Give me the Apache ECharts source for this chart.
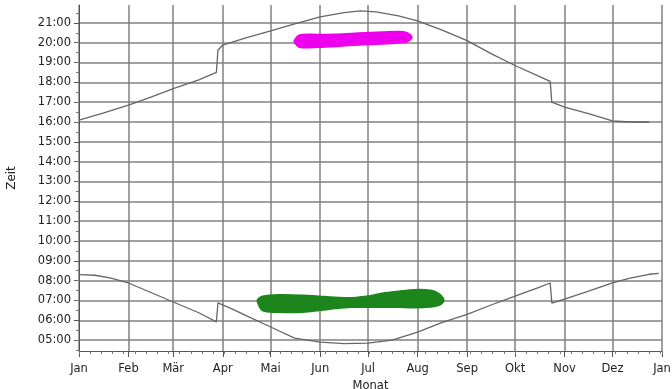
<!DOCTYPE html>
<html>
<head>
<meta charset="utf-8">
<script src="https://cdn.jsdelivr.net/npm/echarts@6/dist/echarts.min.js"></script>
<style>
  html, body { margin: 0; padding: 0; background: #fff; }
  #chart { width: 672px; height: 389px; }
</style>
</head>
<body>
<div id="chart"></div>
<script>
// month starts (day of year) and their labels
const monthDays = [0, 31, 59, 90, 120, 151, 181, 212, 243, 273, 304, 334, 365]
const monthNames = ['Jan', 'Feb', 'Mär', 'Apr', 'Mai', 'Jun', 'Jul', 'Aug', 'Sep', 'Okt', 'Nov', 'Dez', 'Jan']
const hourTicks = [5, 6, 7, 8, 9, 10, 11, 12, 13, 14, 15, 16, 17, 18, 19, 20, 21]

// sunset [day, hour]
const sunset = [
  [0, 16.1], [15, 16.45], [31, 16.85], [45, 17.25], [59, 17.68], [75, 18.12], [86, 18.5],
  [87, 19.62], [90, 19.88], [105, 20.25], [120, 20.6], [135, 20.95], [151, 21.3],
  [166, 21.52], [176, 21.6], [186, 21.55], [200, 21.35], [212, 21.1], [227, 20.65],
  [243, 20.1], [258, 19.45], [273, 18.85], [288, 18.3], [295, 18.05],
  [296, 17.0], [304, 16.75], [319, 16.42], [334, 16.05], [345, 16.0], [357, 16.0]
]

// sunrise [day, hour]
const sunrise = [
  [0, 8.3], [10, 8.27], [20, 8.12], [31, 7.88], [45, 7.4], [59, 6.92], [75, 6.38], [86, 5.92],
  [87, 6.88], [95, 6.6], [105, 6.22], [120, 5.66], [135, 5.1], [151, 4.9], [166, 4.82],
  [181, 4.85], [196, 5.0], [212, 5.4], [227, 5.88], [243, 6.3], [258, 6.77], [273, 7.22],
  [288, 7.66], [295, 7.88], [296, 6.87], [304, 7.07], [319, 7.47], [334, 7.88],
  [345, 8.13], [357, 8.32], [363, 8.36]
]

// magenta band: day, lower, upper
const pinkDays = [135, 138, 150, 165, 175, 190, 200, 205, 208]
const pinkLow = [20.02, 19.78, 19.78, 19.85, 19.9, 19.95, 20.0, 20.05, 20.2]
const pinkHigh = [20.12, 20.38, 20.4, 20.42, 20.47, 20.52, 20.55, 20.5, 20.33]

// green band: day, lower, upper
const greenDays = [112, 115, 125, 140, 150, 160, 170, 180, 190, 200, 210, 220, 225, 228]
const greenLow = [6.9, 6.5, 6.42, 6.42, 6.5, 6.6, 6.67, 6.67, 6.67, 6.67, 6.65, 6.68, 6.75, 6.92]
const greenHigh = [7.05, 7.2, 7.27, 7.25, 7.2, 7.15, 7.12, 7.2, 7.35, 7.45, 7.53, 7.5, 7.35, 7.1]

const gridColor = '#808080'
const textColor = '#222'
const labelFont = 'DejaVu Sans, sans-serif'

// filled band between low and high, drawn once as one smooth polygon
function band (name, days, low, high, color) {
  return {
    name: name,
    type: 'custom',
    data: days.map((d, i) => [d, low[i], high[i]]),
    z: 3,
    renderItem (params, api) {
      if (params.dataIndex !== 0) return null
      const top = days.map((d, i) => api.coord([d, high[i]]))
      const bottom = days.map((d, i) => api.coord([d, low[i]])).reverse()
      return {
        type: 'polygon',
        shape: { points: top.concat(bottom), smooth: 0.35 },
        style: { fill: color, stroke: color, lineWidth: 2 }
      }
    }
  }
}

const chart = echarts.init(document.getElementById('chart'))
chart.setOption({
  animation: false,
  textStyle: { fontFamily: labelFont },
  grid: { left: 79, right: 10, top: 5, bottom: 38, outerBoundsMode: 'none', containLabel: false },
  xAxis: [
    {
      type: 'value',
      min: 0,
      max: 365,
      name: 'Monat',
      nameLocation: 'middle',
      nameGap: 29,
      nameTextStyle: { color: textColor, fontSize: 11.5, fontFamily: labelFont },
      axisLine: { show: true, lineStyle: { color: '#555', width: 1 } },
      axisTick: { show: true, length: 6, customValues: monthDays, lineStyle: { color: '#555' } },
      axisLabel: {
        customValues: monthDays,
        color: textColor,
        fontSize: 11.5,
        fontFamily: labelFont,
        margin: 12,
        formatter: (v) => monthNames[monthDays.indexOf(v)]
      },
      splitLine: { show: true, lineStyle: { color: gridColor, width: 1.5 } }
    },
    {
      // weekly small ticks
      type: 'value',
      min: 0,
      max: 365,
      interval: 7,
      position: 'bottom',
      axisLine: { show: false },
      axisTick: { show: true, length: 3, lineStyle: { color: '#777' } },
      axisLabel: { show: false },
      splitLine: { show: false }
    }
  ],
  yAxis: {
    type: 'value',
    min: 4.45,
    max: 21.9,
    name: 'Zeit',
    nameLocation: 'middle',
    nameGap: 61,
    nameRotate: 90,
    nameTextStyle: { color: textColor, fontSize: 12, fontFamily: labelFont },
    axisLine: { show: true, lineStyle: { color: '#555', width: 1 } },
    axisTick: { show: true, length: 5, customValues: hourTicks, lineStyle: { color: '#555' } },
    minorTick: { show: true, splitNumber: 6, length: 3, lineStyle: { color: '#777' } },
    axisLabel: {
      customValues: hourTicks,
      color: textColor,
      fontSize: 11.5,
      fontFamily: labelFont,
      margin: 8,
      formatter: (v) => (v < 10 ? '0' : '') + v + ':00'
    },
    splitLine: { show: true, lineStyle: { color: gridColor, width: 1.5 } }
  },
  series: [
    {
      name: 'Sonnenuntergang',
      type: 'line',
      symbol: 'none',
      smooth: false,
      lineStyle: { color: '#666', width: 1.3 },
      data: sunset,
      z: 4
    },
    {
      name: 'Sonnenaufgang',
      type: 'line',
      symbol: 'none',
      smooth: false,
      lineStyle: { color: '#666', width: 1.3 },
      data: sunrise,
      z: 4
    },
    band('pink', pinkDays, pinkLow, pinkHigh, '#ee00ee'),
    band('green', greenDays, greenLow, greenHigh, '#1c851c')
  ]
})
</script>
</body>
</html>
